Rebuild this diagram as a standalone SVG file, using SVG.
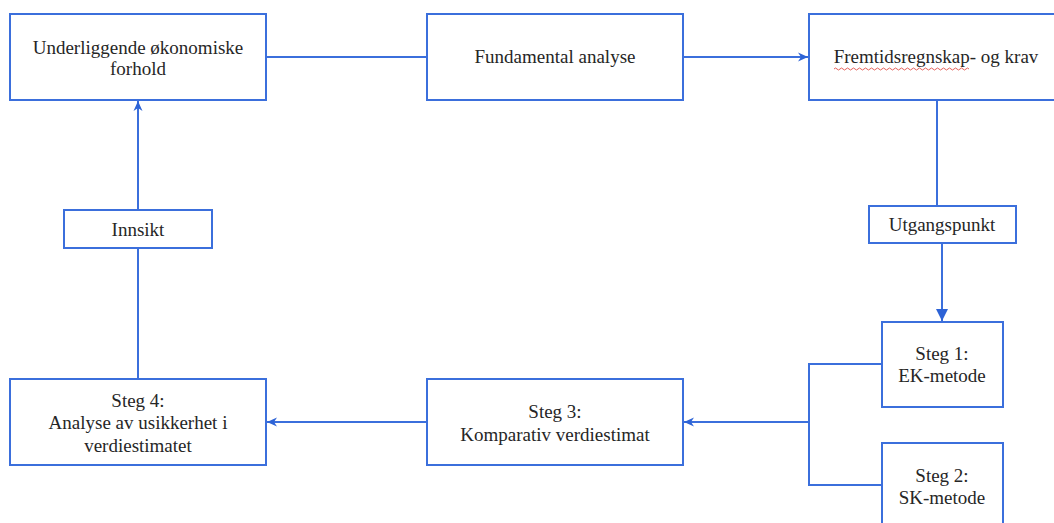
<svg xmlns="http://www.w3.org/2000/svg" width="1054" height="523" viewBox="0 0 1054 523">
  <style>
    .box { fill: #ffffff; stroke: #3b6fdc; stroke-width: 2; }
    .lbl { font-family: "Liberation Serif", "Times New Roman", serif; font-size: 19px; fill: #262626; text-anchor: middle; }
    .wire { fill: none; stroke: #3b6fdc; stroke-width: 2; }
    .squiggle { fill: none; stroke: #e0504a; stroke-width: 0.9; }
  </style>
  <defs>
    <marker id="head" viewBox="0 0 10 10" refX="10" refY="5" markerWidth="10" markerHeight="10" markerUnits="userSpaceOnUse" orient="auto">
      <path d="M0,0.5 L10,5 L0,9.5 L3,5 Z" fill="#2d63d6"/>
    </marker>
    <marker id="headLg" viewBox="0 0 10 10" refX="10" refY="5" markerWidth="13" markerHeight="12" markerUnits="userSpaceOnUse" orient="auto">
      <path d="M0,0 L10,5 L0,10 Z" fill="#2d63d6"/>
    </marker>
  </defs>

  <rect width="1054" height="523" fill="#ffffff"/>

  <g id="connectors">
    <!-- top row -->
    <line class="wire" x1="266" y1="57" x2="427" y2="57"/>
    <line class="wire" x1="683" y1="57" x2="808" y2="57" marker-end="url(#head)"/>
    <!-- right column -->
    <line class="wire" x1="937" y1="100" x2="937" y2="206"/>
    <line class="wire" x1="942" y1="243" x2="942" y2="321" marker-end="url(#headLg)"/>
    <!-- bracket joining steps 1 and 2 -->
    <polyline class="wire" points="882,364 809,364 809,485 882,485"/>
    <line class="wire" x1="809" y1="422" x2="684" y2="422" marker-end="url(#head)"/>
    <!-- bottom row -->
    <line class="wire" x1="427" y1="422" x2="267" y2="422" marker-end="url(#head)"/>
    <!-- left column -->
    <line class="wire" x1="138" y1="379" x2="138" y2="248"/>
    <line class="wire" x1="138" y1="210" x2="138" y2="101" marker-end="url(#head)"/>
  </g>

  <g id="underliggende">
    <rect class="box" x="10" y="14" width="256" height="86"/>
    <text class="lbl" x="138" y="54">Underliggende økonomiske</text>
    <text class="lbl" x="138" y="75">forhold</text>
  </g>

  <g id="fundamental">
    <rect class="box" x="427" y="14" width="256" height="86"/>
    <text class="lbl" x="555" y="63">Fundamental analyse</text>
  </g>

  <g id="fremtid">
    <rect class="box" x="809" y="14" width="256" height="86"/>
    <text class="lbl" x="936" y="63">Fremtidsregnskap- og krav</text>
    <path class="squiggle" d="M834,69 q1.5,-2 3,0 t3,0 t3,0 t3,0 t3,0 t3,0 t3,0 t3,0 t3,0 t3,0 t3,0 t3,0 t3,0 t3,0 t3,0 t3,0 t3,0 t3,0 t3,0 t3,0 t3,0 t3,0 t3,0 t3,0 t3,0 t3,0 t3,0 t3,0 t3,0 t3,0 t3,0 t3,0 t3,0 t3,0 t3,0 t3,0 t3,0 t3,0 t3,0 t3,0 t3,0 t3,0 t3,0 t3,0 t3,0"/>
  </g>

  <g id="utgangspunkt">
    <rect class="box" x="869" y="206" width="147" height="37"/>
    <text class="lbl" x="942" y="231">Utgangspunkt</text>
  </g>

  <g id="steg1">
    <rect class="box" x="882" y="322" width="121" height="85"/>
    <text class="lbl" x="942" y="360">Steg 1:</text>
    <text class="lbl" x="942" y="382">EK-metode</text>
  </g>

  <g id="steg2">
    <rect class="box" x="882" y="443" width="121" height="90"/>
    <text class="lbl" x="942" y="482">Steg 2:</text>
    <text class="lbl" x="942" y="504">SK-metode</text>
  </g>

  <g id="steg3">
    <rect class="box" x="427" y="379" width="256" height="86"/>
    <text class="lbl" x="555" y="418">Steg 3:</text>
    <text class="lbl" x="555" y="441">Komparativ verdiestimat</text>
  </g>

  <g id="steg4">
    <rect class="box" x="10" y="379" width="256" height="86"/>
    <text class="lbl" x="138" y="407">Steg 4:</text>
    <text class="lbl" x="138" y="429">Analyse av usikkerhet i</text>
    <text class="lbl" x="138" y="452">verdiestimatet</text>
  </g>

  <g id="innsikt">
    <rect class="box" x="64" y="210" width="148" height="38"/>
    <text class="lbl" x="138" y="236">Innsikt</text>
  </g>
</svg>
